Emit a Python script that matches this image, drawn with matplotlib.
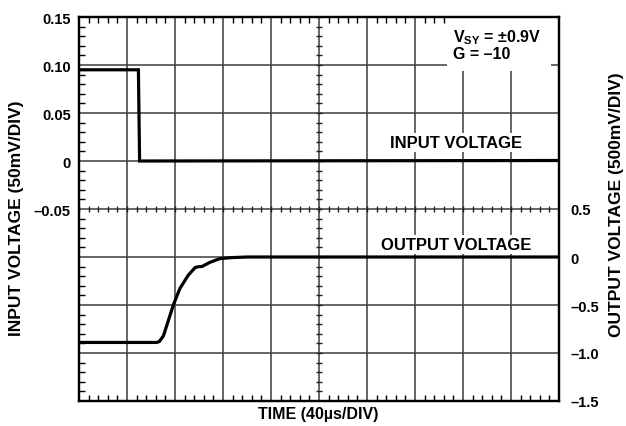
import matplotlib
matplotlib.use("Agg")
import matplotlib.pyplot as plt
import numpy as np
from matplotlib.patches import Rectangle
from matplotlib.ticker import FixedLocator, FixedFormatter, MultipleLocator

plt.rcParams['font.family'] = ['Liberation Sans', 'DejaVu Sans']
plt.rcParams['font.weight'] = 'bold'
plt.rcParams['mathtext.fontset'] = 'custom'
plt.rcParams['mathtext.bf'] = 'Liberation Sans:bold'
plt.rcParams['mathtext.rm'] = 'Liberation Sans:bold'

# Input step (V) versus time (µs)
input_time = [0, 49.5, 50.5, 400]
input_volts = [0.095, 0.095, 0.0, 0.0005]

# Inverted, amplified output (V) versus time (µs)
output_time = [0, 64.8, 67.0, 70.4, 74.0, 78.6, 84.0, 91.0, 96.8, 100.0,
               102.4, 109.0, 117.6, 128.0, 140.0, 400]
output_volts = [-0.89, -0.89, -0.88, -0.82, -0.68, -0.50, -0.33, -0.19, -0.11,
                -0.10, -0.10, -0.056, -0.016, -0.006, 0.0, 0.0]

left_ticks = [0.15, 0.10, 0.05, 0.0, -0.05]
left_labels = ['0.15', '0.10', '0.05', '0', '\u20130.05']
right_ticks = [0.5, 0.0, -0.5, -1.0, -1.5]
right_labels = ['0.5', '0', '\u20130.5', '\u20131.0', '\u20131.5']

fig = plt.figure(figsize=(6.26, 4.27), dpi=100)
ax = fig.add_axes([79 / 626, 25 / 427, 480 / 626, 384 / 427])

ax.set_xlim(0, 400)
ax.set_ylim(-0.25, 0.15)

# major grid: 10 x 8 divisions
ax.xaxis.set_major_locator(MultipleLocator(40))
ax.xaxis.set_minor_locator(MultipleLocator(8))
ax.yaxis.set_minor_locator(MultipleLocator(0.01))
ytick_vals = np.round(np.arange(-0.25, 0.1501, 0.05), 3)
ax.yaxis.set_major_locator(FixedLocator(ytick_vals))
ax.yaxis.set_major_formatter(FixedFormatter(
    [left_labels[left_ticks.index(v)] if v in left_ticks else '' for v in ytick_vals]))
ax.set_xticklabels([])
ax.grid(True, which='major', color='#3c3c3c', linewidth=1.1)
ax.set_axisbelow(True)

ax.tick_params(which='major', length=0, labelsize=10.5, pad=6)
ax.tick_params(which='minor', direction='in', length=4, width=1,
               top=True, bottom=True, left=True, right=True)
for sp in ax.spines.values():
    sp.set_linewidth(1.6)

# minor tick marks along the centre cross-hairs
centre_x = 200
centre_y = -0.05
xm = np.arange(0, 400.1, 8)
ym = np.arange(-0.25, 0.1501, 0.01)
ax.plot(xm, np.full_like(xm, centre_y), linestyle='none', marker='|',
        markersize=5, markeredgewidth=1, color='#222222', zorder=2)
ax.plot(np.full_like(ym, centre_x), ym, linestyle='none', marker='_',
        markersize=5, markeredgewidth=1, color='#222222', zorder=2)

ax.plot(input_time, input_volts, color='black', linewidth=2.3,
        solid_joinstyle='miter', zorder=4)

ax2 = ax.twinx()
ax2.set_ylim(-1.5, 2.5)
rt = np.round(np.arange(-1.5, 2.51, 0.5), 2)
ax2.yaxis.set_major_locator(FixedLocator(rt))
ax2.yaxis.set_major_formatter(FixedFormatter(
    [right_labels[right_ticks.index(v)] if v in right_ticks else '' for v in rt]))
ax2.tick_params(which='major', length=0, labelsize=10.5, pad=8)
ax2.tick_params(which='minor', length=0)
for sp in ax2.spines.values():
    sp.set_linewidth(1.6)
ax2.plot(output_time, output_volts, color='black', linewidth=2.3, zorder=4)

# annotation boxes
ax.add_patch(Rectangle((306.7, 0.0935), 86.6, 0.0565, facecolor='white',
                       edgecolor='none', zorder=1.5))
ax.text(312, 0.130, r'V$_{\mathbf{SY}}$ = ' + '\u00b10.9V',
        fontsize=11.5, fontweight='bold', ha='left', va='center', zorder=3)
ax.text(312, 0.1115, 'G = \u201310', fontsize=11.5, fontweight='bold',
        ha='left', va='center', zorder=3)

ax.text(314, 0.0195, 'INPUT VOLTAGE', fontsize=12, fontweight='bold',
        ha='center', va='center', zorder=3,
        bbox=dict(facecolor='white', edgecolor='none', pad=1.5))
ax2.text(314, 0.135, 'OUTPUT VOLTAGE', fontsize=12, fontweight='bold',
         ha='center', va='center', zorder=3,
         bbox=dict(facecolor='white', edgecolor='none', pad=1.5))

fig.text(16.5 / 626, 0.49, 'INPUT VOLTAGE (50mV/DIV)', fontsize=12.5,
         fontweight='bold', rotation=90, ha='center', va='center')
fig.text(616 / 626, 0.52, 'OUTPUT VOLTAGE (500mV/DIV)', fontsize=12.5,
         fontweight='bold', rotation=90, ha='center', va='center')
fig.text(318 / 626, 12 / 427, 'TIME (40\u00b5s/DIV)', fontsize=11.5,
         fontweight='bold', ha='center', va='center')

fig.savefig('out.png', dpi=100)
